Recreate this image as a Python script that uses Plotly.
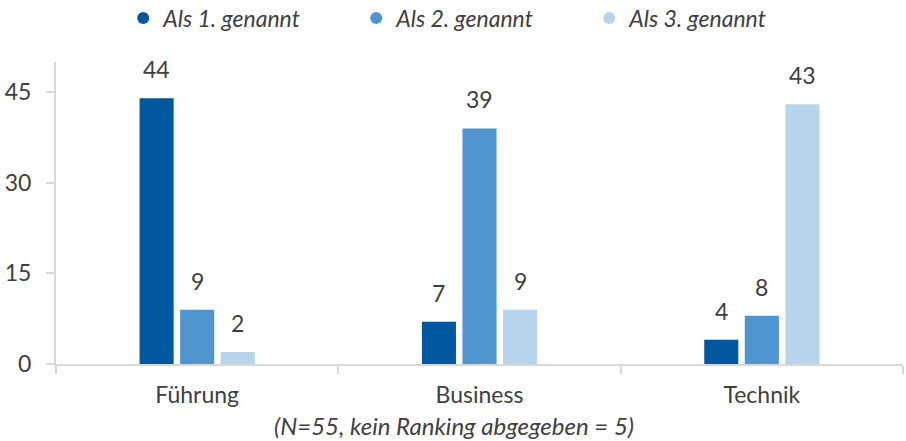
import plotly.graph_objects as go

categories = ["Führung", "Business", "Technik"]
series_names = ["Als 1. genannt", "Als 2. genannt", "Als 3. genannt"]
values_1 = [44, 7, 4]
values_2 = [9, 39, 8]
values_3 = [2, 9, 43]
y_ticks = [0, 15, 30, 45]
x_title = "(N=55, kein Ranking abgegeben = 5)"

series_values = [values_1, values_2, values_3]
colors = ["#00589E", "#4F95D0", "#B8D4EC"]
text_color = "#404040"
axis_color = "#D9D9D9"
FONT = "Lato"
FS = 23

bargap = 0.569
bargroupgap = 0.16

fig = go.Figure()
for name, vals, col in zip(series_names, series_values, colors):
    fig.add_trace(go.Bar(x=categories, y=vals, name=name, marker=dict(color=col, line=dict(width=0)),
                         showlegend=False, hoverinfo="x+y"))
for name, col in zip(series_names, colors):
    fig.add_trace(go.Scatter(x=[None], y=[None], mode="markers", name=name,
                             marker=dict(symbol="circle", size=15, color=col)))

# value labels above bars
slot = (1 - bargap) / len(series_values)
annotations = []
for j, vals in enumerate(series_values):
    for i, v in enumerate(vals):
        annotations.append(dict(x=i + (j - 1) * slot, y=v, xref="x", yref="y", text=str(v),
                                showarrow=False, yanchor="bottom", yshift=13,
                                font=dict(family=FONT, size=FS, color=text_color)))
# x-axis caption (centered on the page)
annotations.append(dict(x=0.5, xref="paper", xanchor="center", xshift=-26,
                        y=-0.203, yref="paper", yanchor="middle", showarrow=False,
                        text=x_title,
                        font=dict(family=FONT, size=24, color=text_color, style="italic")))

fig.update_layout(
    width=906, height=441,
    margin=dict(l=56, r=3, t=62, b=77),
    paper_bgcolor="white", plot_bgcolor="white",
    barmode="group", bargap=bargap, bargroupgap=bargroupgap,
    font=dict(family=FONT, color=text_color, size=FS),
    legend=dict(orientation="h", x=0.136, xref="container", xanchor="left",
                y=0.959, yref="container", yanchor="middle",
                font=dict(family=FONT, size=FS, color=text_color, style="italic"),
                entrywidth=188, entrywidthmode="pixels", itemsizing="constant",
                bgcolor="rgba(0,0,0,0)"),
    annotations=annotations,
    xaxis=dict(showline=True, linecolor=axis_color, linewidth=2, ticks="outside", tickson="boundaries",
               ticklen=8, tickcolor=axis_color, tickwidth=2, showgrid=False, automargin=False,
               ticklabelstandoff=9,
               tickfont=dict(family=FONT, size=FS, color=text_color)),
    yaxis=dict(range=[0, 50], tickvals=y_ticks, showline=True, linecolor=axis_color, linewidth=2,
               ticks="outside", ticklen=8, tickcolor=axis_color, tickwidth=2, showgrid=False,
               ticklabelstandoff=10,
               zeroline=False, automargin=False, tickfont=dict(family=FONT, size=FS, color=text_color)),
)

fig.write_html("out.html", config={"displayModeBar": False},
               post_script="document.body.style.margin='0';")
